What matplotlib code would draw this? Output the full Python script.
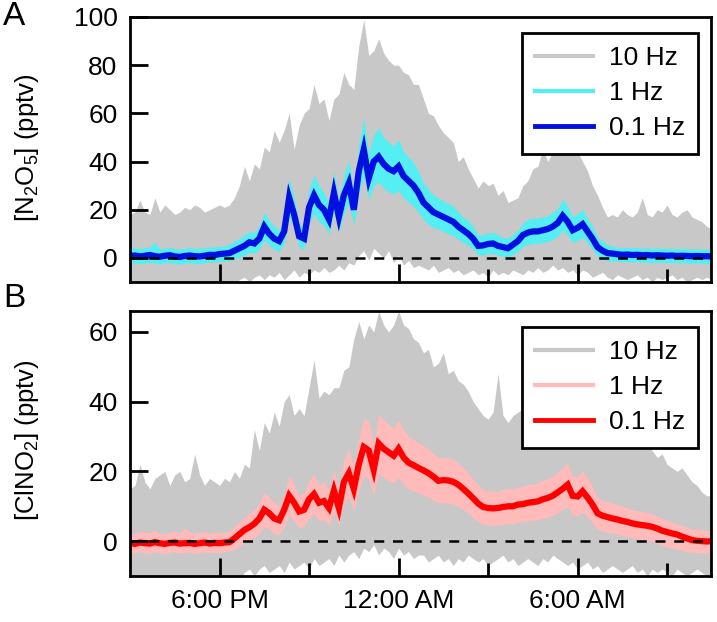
import numpy as np
import matplotlib
matplotlib.use("Agg")
import matplotlib.pyplot as plt
from matplotlib.lines import Line2D

plt.rcParams['font.family'] = ['Liberation Sans', 'DejaVu Sans']

# all series sampled every 10 min from 3:00 PM (hour 15) onward
# ---- panel A : N2O5 ----
n2o5_slow = [0.8, 1.0, 0.6, 0.9, 1.2, 0.7, 0.5, 0.9, 1.1, 0.6, 0.4, 0.8, 1.0, 0.7, 0.6, 0.9, 1.3, 1.2, 1.6, 1.8,
             2.0, 3.0, 4.0, 5.0, 6.5, 6.0, 8.0, 13.0, 10.0, 8.0, 7.0, 11.0, 25.0, 18.0, 9.0, 8.0, 21.0, 26.0,
             22, 20, 16, 27, 17, 26, 31, 20, 36, 45, 33, 40, 42, 39, 37, 36, 38, 34, 32, 30, 27, 23,
             21, 19, 18, 17, 16, 15, 13, 11.5, 10, 8, 5, 5.2, 5.8, 6, 5, 4.5, 4, 5.5,
             7, 9.5, 10.5, 11, 11, 11.5, 12, 13, 14.5, 17.5, 15, 11.5, 12.5, 14, 11, 8, 4.5, 3, 2,
             1.8, 1.5, 1.3, 1.4, 1.2, 1.3, 1.1, 1.2, 1.0, 1.1, 1.0, 0.9, 1.0, 0.8, 0.9, 0.8, 0.7, 0.8, 0.7, 0.7, 0.6]
n2o5_mid_hi = [4.0, 4.3, 3.8, 4.2, 4.5, 6.5, 3.8, 4.0, 4.4, 3.9, 3.6, 4.0, 4.3, 3.9, 4.0, 4.2, 4.6, 4.4, 4.8, 5.0,
               5.7, 7, 8, 9.5, 11, 10.5, 13, 19, 15.5, 13, 11.5, 16.5, 33, 25, 14, 13, 28.5, 34.5,
               30, 27, 22.5, 36, 24, 34.5, 40.5, 27.5, 46.5, 58, 43, 51, 54, 50, 48, 46.5, 49, 44, 42, 39.5, 36, 31,
               28.5, 26, 25, 23.5, 22.5, 21.5, 19, 17, 15.5, 13, 9.5, 9.5, 10.5, 10.5, 9.5, 8.5, 8, 10,
               11.5, 14.5, 16, 16.5, 16.5, 17, 17.5, 19, 20.5, 24.5, 21.5, 17, 18.5, 20, 16.5, 13, 8.5, 7, 5.5,
               4.8, 4.5, 4.3, 4.4, 4.2, 4.3, 4.0, 4.2, 4.0, 4.1, 4.0, 3.9, 4.0, 3.8, 3.9, 3.8, 3.7, 3.8, 3.7, 3.7, 3.6]
n2o5_mid_lo = [-2.3, -2.0, -2.5, -2.1, -1.8, -2.2, -2.6, -2.0, -1.9, -2.4, -2.6, -2.1, -2.0, -2.3, -2.4, -2.0, -1.7, -1.8, -1.4, -1.2,
               -1.4, -0.5, 0.3, 1.1, 2.3, 2.0, 3.5, 7.5, 5.2, 3.6, 2.7, 6, 17.5, 12, 4.4, 3.6, 14, 18.5,
               15, 13.5, 10, 19, 11, 18.5, 22.5, 13.5, 26.5, 34, 24, 30, 31.5, 29, 27.5, 26.5, 28, 25, 23, 21.5, 19, 16,
               14, 12.5, 12, 11, 10, 9.3, 7.7, 6.4, 5.2, 3.6, 1.1, 1.3, 1.8, 1.9, 1.1, 0.7, 0.3, 1.5,
               2.7, 4.8, 5.6, 6, 6, 6.4, 6.8, 7.7, 9, 11.5, 9.3, 6.4, 7.3, 8.5, 6, 3.6, 0.7, -0.5, -1.2,
               -1.2, -1.4, -1.6, -1.5, -1.7, -1.6, -1.8, -1.7, -1.9, -1.8, -1.9, -2.0, -1.9, -2.1, -2.0, -2.1, -2.2, -2.1, -2.2, -2.2, -2.3]
n2o5_fast_hi = [18, 19, 24, 19, 18, 25, 19, 22, 20, 18, 19, 21, 20, 22, 21, 19, 20, 21, 22, 21,
                22, 25, 30, 38, 32, 39, 37, 46, 44, 53, 48, 53, 60, 45, 55, 60, 62, 72,
                64, 66, 57, 66, 68, 77, 72, 70, 88, 99, 84, 86, 91, 85, 82, 80, 80, 77, 76, 72, 72, 66,
                60, 59, 55, 52, 50, 48, 40, 42, 37, 33, 29, 32, 30, 31, 26, 28, 23, 24,
                25, 30, 32, 37, 38, 45, 40, 44, 45, 45, 44, 45, 44, 40, 36, 30, 26, 21, 17,
                18, 17, 20, 18, 17, 19, 25, 18, 17, 20, 19, 22, 18, 17, 19, 20, 17, 16, 15, 13, 12]
n2o5_fast_lo = [-11] * 22 + \
               [-9, -8, -10, -8, -7, -9, -7, -8, -6, -9, -7, -5, -8, -6, -7, -5, -6, -4, -6, -5, -3, -5, -2, -3,
                1, 3, -1, 4, 2, 0, 3, -2, 1, -3, -1, -4, -3,
                -4, -5, -3, -6, -5, -4, -6, -5, -7, -6, -5, -7, -6, -8, -5, -7, -6, -7, -5, -6,
                -7, -5, -6, -4, -6, -5, -3, -5, -4, -6, -5, -7, -5, -6, -8, -7, -6, -8, -9, -7,
                -8, -9, -8, -7, -9, -8, -10, -8, -9, -8, -7, -9, -8, -10, -9, -8, -9, -8, -9]

# ---- panel B : ClNO2 ----
clno2_slow = [-0.5, -0.8, -0.4, -0.6, -0.7, -0.3, -0.6, -0.8, -0.5, -0.4, -0.7, -0.6, -0.5, -0.8, -0.6, -0.4, -0.7, -0.5, -0.6, -0.4, -0.3,
              0.8, 2.0, 3.2, 4.0, 5.0, 6.5, 9.0, 8.0, 6.5, 6.0, 9.0, 13.0, 11.0, 8.5, 9.0, 12.0, 13.5, 11.0, 11.5, 9.5, 14.5, 9.5,
              17.0, 19.5, 15.0, 22.0, 27.0, 26.0, 20.5, 28.0, 26.5, 25.5, 24.5, 26.5, 24.0, 22.5, 21.8, 21.0, 20.3, 19.5, 18.5, 17.3, 17.5, 17.4, 17.0, 16.2,
              15.0, 13.7, 12.3, 10.8, 9.8, 9.5, 9.4, 9.5, 9.8, 10.0, 10.0, 10.5, 10.6, 11.0, 11.2, 11.4, 12.0, 12.4, 13.0, 14.0, 15.0, 16.2, 13.0, 12.8, 14.3, 12.5, 10.5, 8.0, 7.3, 6.9,
              6.5, 6.2, 5.8, 5.5, 5.1, 4.8, 4.6, 4.4, 4.1, 3.6, 3.0, 2.6, 2.2, 1.9, 1.3, 0.8, 0.3, 0.1, 0.0, -0.1, 0.0]
clno2_mid_hi = [2.5, 2.2, 2.8, 2.4, 2.6, 3.0, 2.3, 2.1, 2.6, 2.8, 2.4, 3.8, 2.6, 2.3, 2.5, 2.8, 2.2, 2.6, 2.4, 2.7, 2.9,
                4.2, 5.5, 7, 8, 9, 11, 14, 12.6, 11, 10.2, 14, 18.6, 16.2, 13.2, 14, 17.4, 19.2, 16.2, 17, 14.4, 20.4, 14.4,
                23.4, 26.4, 21, 29.4, 35.4, 34.2, 27.6, 36.6, 34.8, 33.6, 32.4, 34.8, 31.8, 30, 29.2, 28.2, 27.4, 26.4, 25.2, 24, 24, 24, 23.4, 22.4,
                21, 19.4, 17.8, 16, 14.8, 14.4, 14.3, 14.4, 14.8, 15, 15, 15.6, 15.7, 16.2, 16.4, 16.7, 17.4, 17.9, 18.6, 19.8, 21, 22.4, 18.6, 18.4, 20.2, 18, 15.6, 12.6, 11.8, 11.3,
                11, 10.5, 10, 9.5, 9, 8.8, 8.5, 8.2, 7.8, 7.2, 6.5, 6, 5.5, 5, 4.5, 4, 3.5, 3.3, 3.2, 3, 3.1]
clno2_mid_lo = [-3.2, -3.5, -3.0, -3.4, -3.6, -3.1, -3.3, -3.7, -3.2, -3.0, -3.5, -3.3, -3.1, -3.6, -3.4, -3.0, -3.4, -3.2, -3.3, -3.0, -2.8,
                -2.4, -1.4, -0.4, 0.2, 1.0, 2.2, 4.2, 3.4, 2.2, 1.8, 4.2, 7.4, 5.8, 3.8, 4.2, 6.6, 7.8, 5.8, 6.2, 4.6, 8.6, 4.6,
                10.6, 12.6, 9, 14.6, 18.6, 17.8, 13.4, 19.4, 18.2, 17.4, 16.6, 18.2, 16.2, 15, 14.4, 13.8, 13.2, 12.6, 11.8, 10.8, 11, 10.9, 10.6, 10,
                9, 8, 6.8, 5.6, 4.8, 4.6, 4.5, 4.6, 4.8, 5, 5, 5.4, 5.5, 5.8, 6, 6.1, 6.6, 6.9, 7.4, 8.2, 9, 10, 7.4, 7.2, 8.4, 7, 5.4, 3.4, 2.8, 2.5,
                2.3, 2.0, 1.6, 1.3, 0.9, 0.6, 0.4, 0.2, -0.1, -0.6, -1.2, -1.6, -2.0, -2.3, -2.7, -3.0, -3.2, -3.3, -3.4, -3.4, -3.3]
clno2_fast_hi = [15, 16, 22, 17, 15, 18, 19, 20, 16, 19, 20, 17, 18, 25, 19, 16, 18, 17, 16, 18, 17,
                 20, 18, 22, 21, 32, 26, 34, 31, 37, 33, 40, 42, 36, 38, 36, 44, 52,
                 41, 43, 42, 44, 44, 49, 50, 58, 63, 58, 62, 60, 66, 62, 60, 62, 66, 62, 61, 58, 57, 54,
                 55, 50, 51, 54, 48, 49, 46, 45, 43, 40, 38, 36, 35, 37, 48, 36, 34, 36,
                 37, 38, 38, 40, 36, 35, 32, 32, 31, 32, 30, 31, 32, 31, 30, 30, 29, 29, 30,
                 30, 29, 31, 28, 30, 28, 27, 27, 26, 24, 25, 22, 21, 20, 21, 19, 17, 16, 14, 13, 13]
clno2_fast_lo = [-11] * 23 + \
                [-9, -8, -10, -8, -7, -9, -8, -7, -9, -6, -8, -7, -6, -8, -5, -7, -6, -5, -7, -4, -6, -4,
                 -3, -5, -2, -3, -1, -4, -2, -3, -5, -2, -4, -3, -5, -4,
                 -4, -6, -5, -4, -6, -5, -7, -5, -6, -4, -5, -6, -5, -7, -6, -5, -4, -6, -5, -7,
                 -6, -5, -6, -7, -5, -6, -4, -5, -6, -7, -6, -8, -7, -6, -8, -7, -9, -8, -7, -8,
                 -9, -8, -7, -9, -8, -10, -8, -9, -8, -9, -10, -8, -9, -10, -9, -8, -9, -10, -9]

tick_hours = [18, 24, 30]
tick_labels = ['6:00 PM', '12:00 AM', '6:00 AM']
minor_hours = [21, 27, 33]


def hours(vals):
    return 15 + np.arange(len(vals)) / 6.0


def panel(ax, slow, mid_lo, mid_hi, fast_lo, fast_hi, c_mid, c_slow, ylim, yticks):
    ax.fill_between(hours(fast_hi), fast_lo, fast_hi, color='#c8c8c8', lw=0, zorder=1)
    ax.fill_between(hours(mid_hi), mid_lo, mid_hi, color=c_mid, lw=0, zorder=1.5)
    ax.plot(hours(slow), slow, color=c_slow, lw=4.5, solid_joinstyle='miter', zorder=2)
    ax.axhline(0, color='k', lw=1.8, ls=(0, (4, 3.5)), zorder=4)
    ax.set_xlim(15, 34.47)
    ax.set_ylim(*ylim)
    ax.set_yticks(yticks)
    ax.set_xticks(tick_hours)
    ax.set_xticks(minor_hours, minor=True)
    ax.set_axisbelow(False)
    ax.tick_params(which='both', direction='in', width=2, labelsize=19, top=False, right=False)
    ax.tick_params(which='major', length=13, pad=9)
    ax.tick_params(which='minor', length=9.5)
    for s in ax.spines.values():
        s.set_linewidth(2)
        s.set_zorder(5)
    handles = [Line2D([], [], color='#c8c8c8', lw=3),
               Line2D([], [], color=c_mid, lw=3),
               Line2D([], [], color=c_slow, lw=3.5)]
    leg = ax.legend(handles, ['10 Hz', '1 Hz', '0.1 Hz'], loc='upper right',
                    bbox_to_anchor=(1 - 13 / 581, 1 - 16 / 265), borderaxespad=0,
                    fontsize=19, frameon=True, fancybox=False, framealpha=1,
                    edgecolor='k', handlelength=2.2, handletextpad=0.6,
                    labelspacing=0.42, borderpad=0.5)
    leg.get_frame().set_linewidth(2)
    leg.set_zorder(6)


fig = plt.figure(figsize=(7.17, 6.22), dpi=100)
axA = fig.add_axes([130 / 717, 1 - 282 / 622, 581 / 717, 265 / 622])
axB = fig.add_axes([130 / 717, 1 - 576 / 622, 581 / 717, 265 / 622])

panel(axA, n2o5_slow, n2o5_mid_lo, n2o5_mid_hi, n2o5_fast_lo, n2o5_fast_hi,
      '#55eef2', '#0010e0', (-10, 100), [0, 20, 40, 60, 80, 100])
panel(axB, clno2_slow, clno2_mid_lo, clno2_mid_hi, clno2_fast_lo, clno2_fast_hi,
      '#ffbaba', '#ff0000', (-10, 66), [0, 20, 40, 60])

axA.set_xticklabels([])
axB.set_xticklabels(tick_labels)

fig.text(27 / 717, 1 - 148 / 622, r'[N$_{\mathregular{2}}$O$_{\mathregular{5}}$] (pptv)',
         rotation=90, ha='center', va='center', fontsize=18.5)
fig.text(27 / 717, 1 - 440 / 622, r'[ClNO$_{\mathregular{2}}$] (pptv)',
         rotation=90, ha='center', va='center', fontsize=18.5)
fig.text(3 / 717, 1 - 1 / 622, 'A', fontsize=24, ha='left', va='top')
fig.text(3 / 717, 1 - 283 / 622, 'B', fontsize=24, ha='left', va='top')

fig.savefig('out.png', dpi=100)
